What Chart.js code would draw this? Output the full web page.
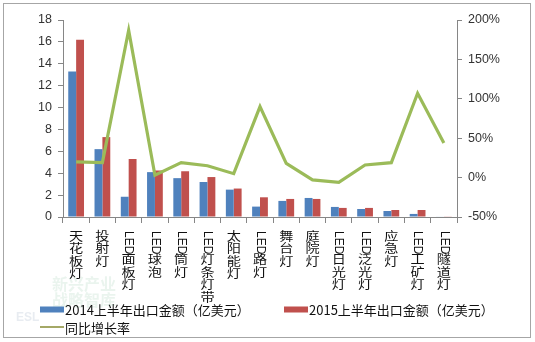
<!DOCTYPE html>
<html>
<head>
<meta charset="utf-8">
<script src="https://cdn.jsdelivr.net/npm/chart.js@4/dist/chart.umd.min.js"></script>
<style>
  html, body { margin: 0; padding: 0; background: #fff; }
  #wrap { width: 535px; height: 342px; position: relative; }
</style>
</head>
<body>
<div id="wrap"><canvas id="exportChart" width="535" height="342"></canvas></div>
<script>
// 产品类别
const categories = ['天花板灯', '投射灯', 'LED面板灯', 'LED球泡', 'LED筒灯', 'LED灯条灯带', '太阳能灯',
  'LED路灯', '舞台灯', '庭院灯', 'LED日光灯', 'LED泛光灯', '应急灯', 'LED工矿灯', 'LED隧道灯'];
// 出口金额（亿美元）
const export2014 = [13.3, 6.2, 1.85, 4.1, 3.55, 3.2, 2.5, 0.95, 1.47, 1.74, 0.92, 0.73, 0.55, 0.28, 0.04];
const export2015 = [16.2, 7.3, 5.3, 4.25, 4.18, 3.65, 2.6, 1.8, 1.65, 1.65, 0.83, 0.83, 0.64, 0.64, 0.06];
// 同比增长率（%）
const growth = [20, 19, 187, 3, 19, 15, 5, 90, 18, -3, -6, 16, 19, 107, 44];

const seriesNames = ['2014上半年出口金额（亿美元）', '2015上半年出口金额（亿美元）', '同比增长率'];
const leftTicks = { min: 0, max: 18, step: 2 };
const rightTicks = { min: -50, max: 200, step: 50 };

const axisColor = '#868686';
const tickFont = { family: 'Liberation Sans, Arial, sans-serif', size: 12.5 };
const cjkFont = '"Noto Sans CJK SC", sans-serif';

// 外框和水印
const framePlugin = {
  id: 'frame',
  beforeDraw(chart) {
    const ctx = chart.ctx;
    ctx.save();
    ctx.fillStyle = '#fff';
    ctx.fillRect(0, 0, chart.width, chart.height);
    ctx.strokeStyle = '#a6a6a6';
    ctx.lineWidth = 1;
    ctx.strokeRect(3.5, 3.5, 527, 334);

    ctx.fillStyle = 'rgba(150, 200, 170, 0.2)';
    ctx.font = 'bold 16px ' + cjkFont;
    ctx.textBaseline = 'middle';
    ctx.fillText('新兴产业', 52, 284);
    ctx.fillText('战略智库', 52, 300);
    ctx.fillStyle = 'rgba(150, 170, 190, 0.22)';
    ctx.font = 'bold 12px Liberation Sans, Arial, sans-serif';
    ctx.fillText('ESL', 16, 318);
    ctx.restore();
  }
};

// 竖排类别标签：LED 旋转，汉字逐字向下
const verticalLabels = {
  id: 'verticalLabels',
  afterDraw(chart) {
    const ctx = chart.ctx;
    const xs = chart.scales.x;
    const top = xs.top + 14;
    const step = 12.6;
    ctx.save();
    ctx.fillStyle = '#111';
    chart.data.labels.forEach((label, i) => {
      const x = xs.getPixelForValue(i);
      let y = top;
      let rest = label;
      if (label.startsWith('LED')) {
        ctx.font = '12px Liberation Sans, Arial, sans-serif';
        const w = ctx.measureText('LED').width;
        ctx.save();
        ctx.translate(x, y);
        ctx.rotate(Math.PI / 2);
        ctx.textAlign = 'left';
        ctx.textBaseline = 'middle';
        ctx.fillText('LED', 0, 0);
        ctx.restore();
        y += w;
        rest = label.slice(3);
      }
      ctx.font = '12px ' + cjkFont;
      ctx.textAlign = 'center';
      ctx.textBaseline = 'top';
      for (const ch of rest) {
        ctx.save();
        ctx.translate(x, y - 1);
        ctx.scale(1.18, 1);
        ctx.fillText(ch, 0, 0);
        ctx.restore();
        y += step;
      }
    });
    ctx.restore();
  }
};

// 图例
const legendPlugin = {
  id: 'customLegend',
  afterDraw(chart) {
    const ctx = chart.ctx;
    const ds = chart.data.datasets;
    const items = [
      { x: 40, y: 309.5, ds: ds[1] },
      { x: 284, y: 309.5, ds: ds[2] },
      { x: 40, y: 327, ds: ds[0] }
    ];
    ctx.save();
    ctx.font = '13px ' + cjkFont;
    ctx.textBaseline = 'middle';
    ctx.textAlign = 'left';
    items.forEach(it => {
      if (it.ds.type === 'line') {
        ctx.strokeStyle = '#a4a866';
        ctx.lineWidth = 2;
        ctx.beginPath();
        ctx.moveTo(it.x, it.y);
        ctx.lineTo(it.x + 24, it.y);
        ctx.stroke();
      } else {
        ctx.fillStyle = it.ds.backgroundColor;
        ctx.fillRect(it.x, it.y - 3, 24, 6);
      }
      ctx.fillStyle = '#111';
      ctx.fillText(it.ds.label, it.x + 25, it.y + 1);
    });
    ctx.restore();
  }
};

new Chart(document.getElementById('exportChart'), {
  type: 'bar',
  data: {
    labels: categories,
    datasets: [{
      type: 'line',
      label: seriesNames[2],
      data: growth,
      yAxisID: 'y1',
      borderColor: '#9bbb59',
      borderWidth: 3.2,
      pointRadius: 0,
      tension: 0,
      order: 0
    }, {
      label: seriesNames[0],
      data: export2014,
      backgroundColor: '#4f81bd',
      yAxisID: 'y',
      order: 1,
      categoryPercentage: 0.6,
      barPercentage: 1.0
    }, {
      label: seriesNames[1],
      data: export2015,
      backgroundColor: '#c0504d',
      yAxisID: 'y',
      order: 1,
      categoryPercentage: 0.6,
      barPercentage: 1.0
    }]
  },
  options: {
    responsive: false,
    animation: false,
    layout: { padding: { top: 20, left: 0, right: 0, bottom: 0 } },
    plugins: {
      legend: { display: false },
      tooltip: { enabled: false }
    },
    scales: {
      x: {
        offset: true,
        grid: { offset: true, drawOnChartArea: false, drawTicks: true, tickLength: 6, color: axisColor },
        border: { color: axisColor },
        ticks: { display: false },
        afterFit(s) { s.height = 125; }
      },
      y: {
        position: 'left',
        min: leftTicks.min,
        max: leftTicks.max,
        ticks: { stepSize: leftTicks.step, font: tickFont, color: '#333', padding: 6 },
        grid: { drawOnChartArea: false, tickLength: 5, color: axisColor },
        border: { color: axisColor },
        afterFit(s) { s.width = 63; }
      },
      y1: {
        position: 'right',
        min: rightTicks.min,
        max: rightTicks.max,
        ticks: { stepSize: rightTicks.step, font: tickFont, color: '#333', padding: 6,
          callback: v => v + '%' },
        grid: { drawOnChartArea: false, tickLength: 5, color: axisColor },
        border: { color: axisColor },
        afterFit(s) { s.width = 78; }
      }
    }
  },
  plugins: [framePlugin, verticalLabels, legendPlugin]
});
</script>
</body>
</html>
